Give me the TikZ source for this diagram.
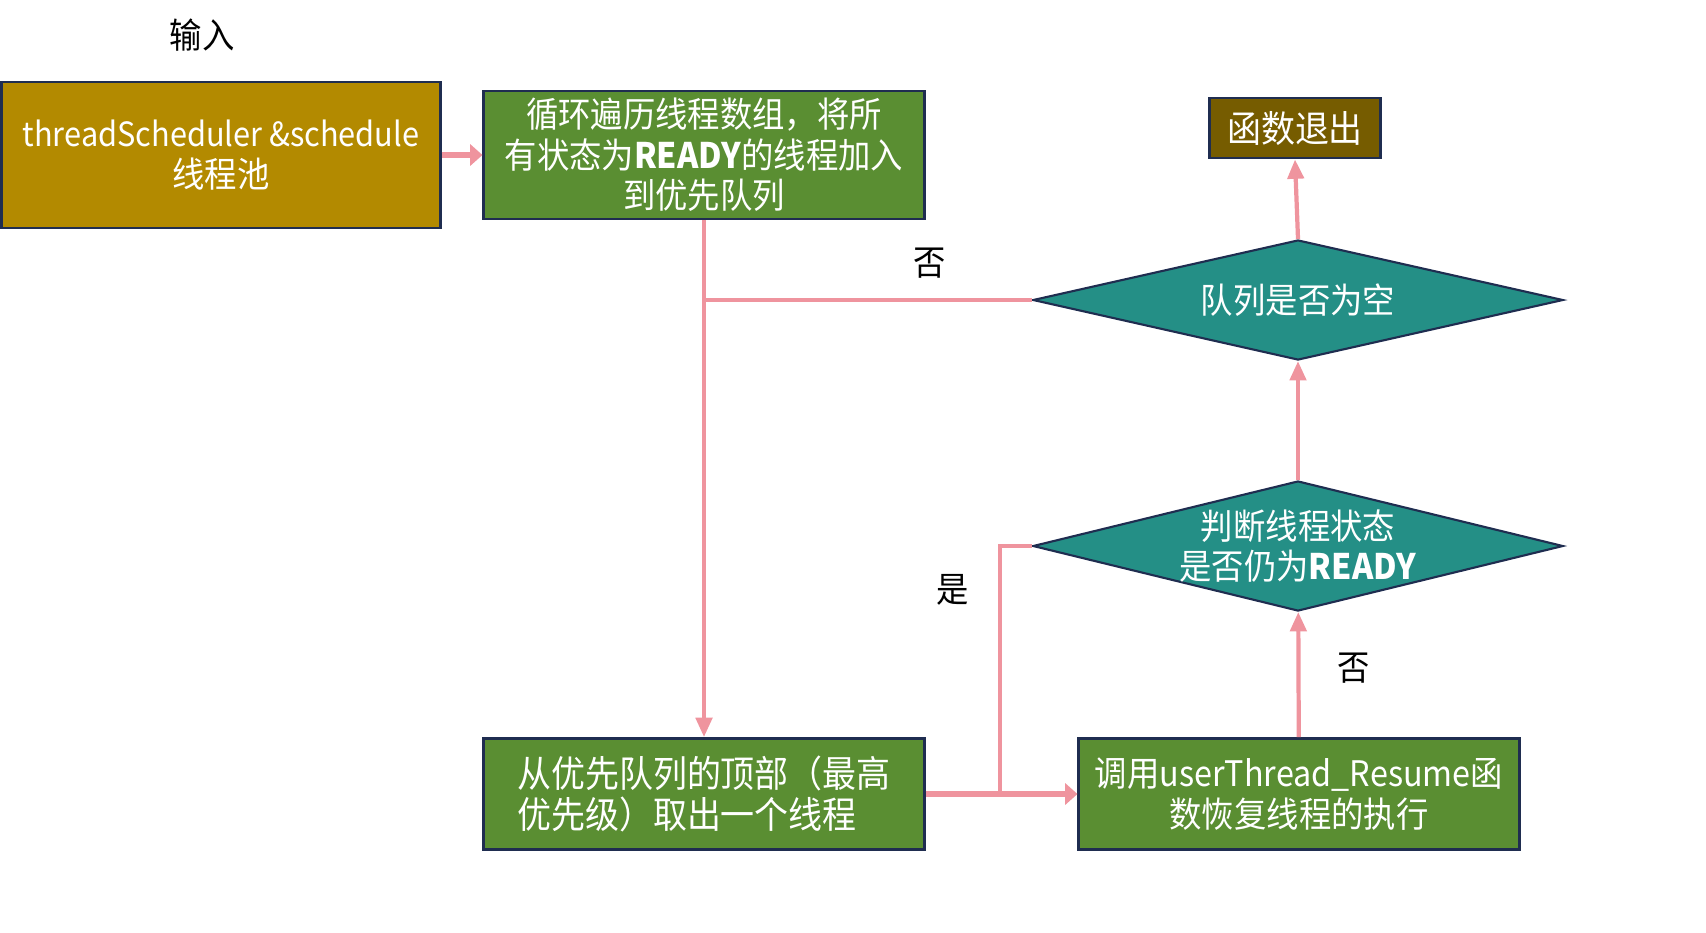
\documentclass[tikz,border=0pt]{standalone}
\usepackage{fontspec}
\setmainfont{Noto Sans CJK SC}[FakeStretch=0.92]
\usetikzlibrary{arrows.meta,shapes.geometric}
\definecolor{gold}{HTML}{B38A00}
\definecolor{leaf}{HTML}{5A8E32}
\definecolor{olive}{HTML}{765C00}
\definecolor{sea}{HTML}{248F86}
\definecolor{navy}{HTML}{1F2D50}
\definecolor{rose}{HTML}{EF949E}
\tikzset{every scope/.style={>={Triangle[length=5.5pt,width=4.6pt]}},
  box/.style={draw=navy,line width=0.8pt,inner sep=0pt,text=white,align=center,font=\fontsize{10}{11.5}\selectfont},
  diam/.style={diamond,draw=navy,line width=0.6pt,fill=sea,inner sep=0pt,minimum width=5.3cm},
  link/.style={draw=rose,line width=1.2pt,->},
  fat/.style={draw=rose,line width=1.8pt,-{Triangle[length=3.5pt,width=6pt]}},
  word/.style={font=\fontsize{10}{11.5}\selectfont}}

\begin{document}
\begin{tikzpicture}[x=0.01cm,y=-0.01cm,>={Triangle[length=5.5pt,width=4.6pt]}]
      \useasboundingbox (0,0) rectangle (1706,932);
      \node[word] (In) at (202,35) {输入};
      \node[box,fill=gold,minimum width=4.38cm,minimum height=1.46cm] (Pool) at (221,155)
        {{\fontsize{9.5}{11.5}\selectfont threadScheduler \&schedule}\\线程池};
      \node[box,fill=leaf,minimum width=4.4cm,minimum height=1.28cm] (Loop) at (704,155)
        {循环遍历线程数组，将所\\有状态为\textbf{READY}的线程加入\\到优先队列};
      \node[box,fill=olive,minimum width=1.71cm,minimum height=0.6cm,font=\fontsize{10.5}{12}\selectfont] (Exit) at (1295,128) {函数退出};
      \node[diam,minimum height=1.2cm] (Empty) at (1298,300) {};
      \node[word,text=white] at (Empty) {队列是否为空};
      \node[diam,minimum height=1.3cm] (Ready) at (1298,546) {};
      \node[word,text=white,align=center] at (Ready) {判断线程状态\\是否仍为\textbf{READY}};
      \node[box,fill=leaf,minimum width=4.4cm,minimum height=1.11cm,align=left,font=\fontsize{10.5}{11.5}\selectfont] (Pop) at (704,794)
        {从优先队列的顶部（最高\\优先级）取出一个线程};
      \node[box,fill=leaf,minimum width=4.4cm,minimum height=1.11cm] (Resume) at (1299,794)
        {调用userThread\_Resume函\\数恢复线程的执行};
      \coordinate (Join) at (1000,794);
      \draw[fat] (Pool) -- (Loop);
      \draw[link] (Loop) -- (Pop);
      \draw[link,-] (Empty.west) -- (Empty.west -| Loop.south);
      \draw[link] (Empty.north) -- (Exit.south);
      \draw[link] (Ready) -- (Empty);
      \draw[link] (Resume) -- (Ready);
      \draw[link,-] (Ready.west) -| (Join);
      \draw[fat] (Pop) -- (Resume);
      \node[word] (No1) at (930,263) {否};
      \node[word] (Yes) at (953,590) {是};
      \node[word] (No2) at (1354,668) {否};
    \end{tikzpicture}
\end{document}
